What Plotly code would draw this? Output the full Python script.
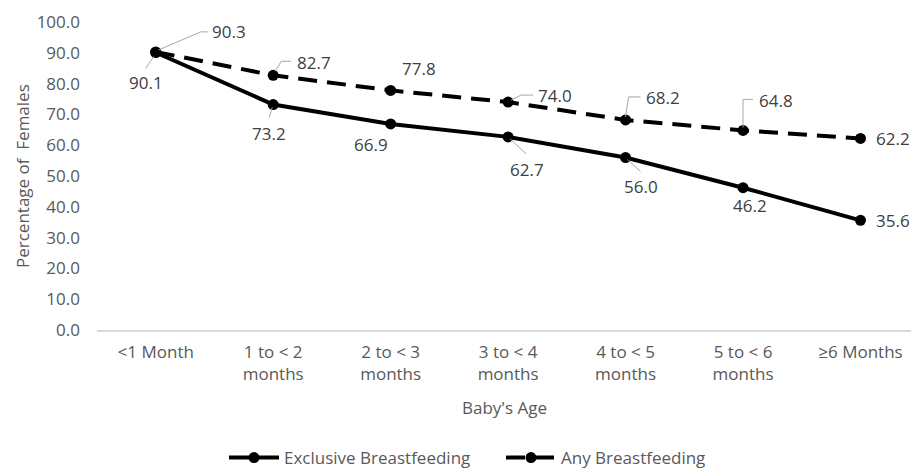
import plotly.graph_objects as go

# Breastfeeding rates by baby's age
age_groups = ["<1 Month", "1 to < 2<br>months", "2 to < 3<br>months", "3 to < 4<br>months",
              "4 to < 5<br>months", "5 to < 6<br>months", "≥6 Months"]
exclusive_bf = [90.1, 73.2, 66.9, 62.7, 56.0, 46.2, 35.6]
any_bf = [90.3, 82.7, 77.8, 74.0, 68.2, 64.8, 62.2]
y_ticks = [0, 10, 20, 30, 40, 50, 60, 70, 80, 90, 100]

FONT = "Open Sans"
FS = 17
LABEL_COLOR = "#404040"
TICK_COLOR = "#595959"
LEADER_COLOR = "#A6A6A6"

# label placement per point: (dx, dy) pixel offset of label centre, dy>0 = down
excl_label_off = [(-10, 30), (-4, 29), (-20, 21), (19, 33), (15, 29), (7, 18), (33, 0)]
any_label_off = [(73, -20), (41, -13), (28, -22), (47, -7), (37, -22), (33, -30), (33, 0)]
# leader line polylines (screen pixels relative to the point, dy>0 = down)
excl_leaders = [[(-2, 4), (-10, 16)], [(-1, 3), (-4, 13)], None,
                [(2, 2), (18, 17)], [(2, 2), (15, 14)], None, None]
any_leaders = [[(3, -2), (45, -20), (52, -20)], [(2, -4), (8, -14), (18, -14)], None,
               [(3, -2), (13, -7), (25, -7)], [(0, -3), (3, -23), (15, -23)],
               [(0, -3), (0, -31), (10, -31)], None]

xs = list(range(len(age_groups)))

fig = go.Figure()
fig.add_trace(go.Scatter(
    x=xs, y=exclusive_bf, mode="lines+markers", name="Exclusive Breastfeeding",
    line=dict(color="black", width=4),
    marker=dict(color="black", size=11),
))
fig.add_trace(go.Scatter(
    x=xs, y=any_bf, mode="lines+markers", name="Any Breastfeeding",
    line=dict(color="black", width=4, dash="19px,10px"),
    marker=dict(color="black", size=11),
))

annotations = []
shapes = []
for values, offs, leaders in ((exclusive_bf, excl_label_off, excl_leaders),
                              (any_bf, any_label_off, any_leaders)):
    for i, v in enumerate(values):
        dx, dy = offs[i]
        annotations.append(dict(
            x=xs[i], y=v, xref="x", yref="y", text=f"{v:.1f}", showarrow=False,
            xshift=dx, yshift=-dy, font=dict(family=FONT, size=FS, color=LABEL_COLOR),
        ))
        pts = leaders[i]
        if pts:
            path = "M " + " L ".join(f"{px},{-py}" for px, py in pts)
            shapes.append(dict(
                type="path", xref="x", yref="y", xsizemode="pixel", ysizemode="pixel",
                xanchor=xs[i], yanchor=v, path=path,
                line=dict(color=LEADER_COLOR, width=1),
            ))

# axis titles
annotations.append(dict(
    x=0.5, y=0, xref="paper", yref="paper", yshift=-77, yanchor="middle",
    text="Baby's Age", showarrow=False, font=dict(family=FONT, size=FS, color=TICK_COLOR),
))
annotations.append(dict(
    x=0, y=0.5, xref="paper", yref="paper", xshift=-75, xanchor="center",
    text="Percentage of  Females", textangle=-90, showarrow=False,
    font=dict(family=FONT, size=FS, color=TICK_COLOR),
))

fig.update_layout(
    width=911, height=476,
    margin=dict(l=97, r=0, t=22, b=139),
    paper_bgcolor="white", plot_bgcolor="white",
    font=dict(family=FONT, size=FS, color=TICK_COLOR),
    showlegend=True,
    legend=dict(orientation="h", x=(224 - 97) / 814, xanchor="left", y=-0.417, yanchor="middle",
                font=dict(family=FONT, size=FS, color=TICK_COLOR),
                entrywidth=212, entrywidthmode="pixels", itemwidth=50),
    annotations=annotations,
    shapes=shapes,
)
fig.update_xaxes(
    tickmode="array", tickvals=xs, ticktext=age_groups, range=[-0.5, 6.43],
    showgrid=False, zeroline=False, showline=True, linecolor="#D9D9D9", linewidth=1.5,
    ticks="", ticklabelstandoff=6, tickfont=dict(family=FONT, size=FS, color=TICK_COLOR),
)
fig.update_yaxes(
    range=[0, 100], tickvals=y_ticks, tickformat=".1f",
    showgrid=False, zeroline=False, showline=False, ticks="",
    ticklabelstandoff=16, tickfont=dict(family=FONT, size=FS, color=TICK_COLOR),
)

fig.write_html("out.html")
